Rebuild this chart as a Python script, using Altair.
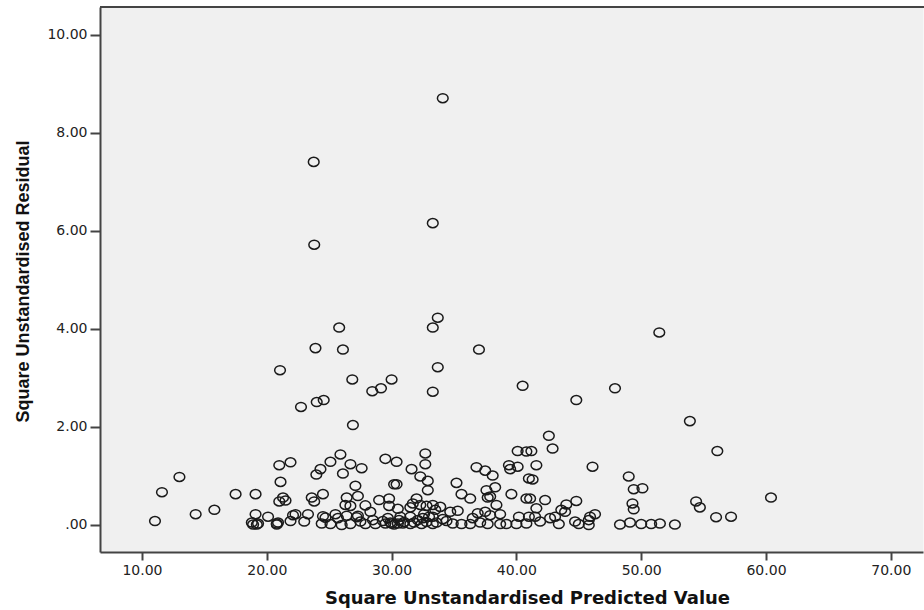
import altair as alt
import pandas as pd

# Squared unstandardised predicted value (x) and squared unstandardised residual (y)
predicted = [
    11.04, 11.6, 13.0, 14.3, 15.8, 17.5, 19.1, 19.1, 20.1, 18.8, 19.3, 20.8, 18.9, 19.2, 20.8,
    21.06, 21.0, 21.9, 21.1, 21.3, 21.0, 21.5, 22.1, 21.9, 22.74, 23.76, 23.8, 23.9, 24.0, 24.56,
    25.8, 26.1, 26.85, 28.45, 29.15, 30.0, 26.9, 25.1, 25.9, 24.3, 23.97, 26.7, 27.6, 26.1, 29.5,
    30.4, 27.1, 30.2, 30.4, 23.6, 23.8, 24.5, 26.4, 27.3, 26.3, 26.7, 27.9, 28.3, 29.0, 29.8,
    29.8, 30.5, 22.3, 23.3, 24.5, 25.5, 26.4, 27.3, 20.9, 23.0, 24.4, 25.1, 26.0, 26.7, 27.5,
    27.9, 28.7, 29.5, 30.0, 30.5, 24.7, 25.7, 27.2, 29.7,
    34.1, 33.3, 33.7, 33.3, 37.0, 33.7, 33.3, 40.5, 44.8, 47.9, 51.45, 53.9, 56.1,
    32.7, 32.7, 31.6, 32.3, 32.9, 32.9, 32.0, 31.7, 31.5, 32.3, 32.8, 33.3, 33.5, 32.6, 31.5,
    30.7, 30.9, 31.5, 32.4, 33.3, 34.1, 34.9, 35.6, 36.3, 37.1, 37.7, 38.7, 39.2, 40.0, 40.8,
    34.7, 35.3, 35.2, 35.6, 36.3, 36.8, 37.5, 38.1, 37.6, 38.3, 37.9, 37.7, 38.4, 38.7, 36.9,
    37.5, 37.9, 36.5, 39.6, 39.4, 40.1, 40.1, 39.5, 40.8, 41.0, 40.8, 40.2, 33.9, 33.3,
    42.6, 42.9, 41.2, 41.6, 41.3, 46.1, 49.0, 49.4, 50.1, 41.1, 42.3, 41.6, 44.0, 44.8, 43.6,
    41.5, 41.9, 42.7, 43.1, 43.4, 43.9, 44.7, 45.0, 45.8, 46.3, 45.9, 49.3, 49.4, 48.3, 49.1,
    50.0, 50.8, 51.5, 52.7, 54.4, 54.7, 56.0, 57.2, 60.4, 41.0, 45.8,
    29.9, 30.2, 31.0, 31.8, 32.1, 32.8, 33.6, 34.4, 30.6, 29.3, 28.5, 32.5, 33.0,
]
residual_sq = [
    0.08, 0.67, 0.98, 0.22, 0.31, 0.63, 0.63, 0.22, 0.17, 0.05, 0.03, 0.03, 0.01, 0.01, 0.01,
    3.16, 1.22, 1.28, 0.88, 0.56, 0.48, 0.50, 0.20, 0.08, 2.41, 7.41, 5.72, 3.61, 2.51, 2.55,
    4.03, 3.58, 2.97, 2.73, 2.79, 2.97, 2.04, 1.29, 1.44, 1.14, 1.03, 1.24, 1.16, 1.05, 1.35,
    1.29, 0.80, 0.83, 0.83, 0.56, 0.48, 0.63, 0.56, 0.59, 0.41, 0.39, 0.40, 0.27, 0.51, 0.54,
    0.39, 0.33, 0.22, 0.22, 0.18, 0.22, 0.19, 0.19, 0.05, 0.07, 0.03, 0.02, 0.00, 0.02, 0.07,
    0.02, 0.02, 0.03, 0.03, 0.03, 0.15, 0.14, 0.16, 0.14,
    8.71, 6.16, 4.23, 4.03, 3.58, 3.22, 2.72, 2.84, 2.55, 2.79, 3.93, 2.12, 1.51,
    1.46, 1.24, 1.14, 0.99, 0.90, 0.71, 0.54, 0.44, 0.36, 0.41, 0.39, 0.41, 0.31, 0.22, 0.17,
    0.17, 0.03, 0.02, 0.02, 0.02, 0.12, 0.03, 0.02, 0.02, 0.05, 0.02, 0.02, 0.02, 0.02, 0.03,
    0.27, 0.29, 0.86, 0.63, 0.54, 1.18, 1.11, 1.01, 0.71, 0.77, 0.58, 0.56, 0.41, 0.22, 0.24,
    0.27, 0.20, 0.14, 0.63, 1.22, 1.51, 1.19, 1.14, 1.50, 0.95, 0.54, 0.17, 0.37, 0.17,
    1.82, 1.56, 1.51, 1.22, 0.93, 1.19, 0.99, 0.73, 0.75, 0.54, 0.51, 0.34, 0.42, 0.49, 0.31,
    0.17, 0.07, 0.14, 0.17, 0.02, 0.27, 0.07, 0.02, 0.10, 0.22, 0.17, 0.44, 0.32, 0.01, 0.05,
    0.02, 0.02, 0.03, 0.01, 0.48, 0.36, 0.16, 0.17, 0.56, 0.17, 0.00,
    0.05, 0.01, 0.06, 0.05, 0.10, 0.06, 0.05, 0.08, 0.10, 0.08, 0.10, 0.14, 0.17,
]

x_ticks = [10, 20, 30, 40, 50, 60, 70]
y_ticks = [0, 2, 4, 6, 8, 10]

x_title = "Square Unstandardised Predicted Value"
y_title = "Square Unstandardised Residual"

W, H = 823, 545
AXIS_COLOR = "#444444"
TEXT_COLOR = "#222222"

df = pd.DataFrame({"pred": predicted, "resid": residual_sq})

# Open, slightly wide ring markers
ring = "M -1.18 0 A 1.18 1 0 1 0 1.18 0 A 1.18 1 0 1 0 -1.18 0 Z"

points = alt.Chart(df).mark_point(
    shape=ring, filled=False, size=82, stroke="#1a1a1a", strokeWidth=1.5, opacity=1
).encode(
    x=alt.X(
        "pred:Q",
        scale=alt.Scale(domain=[6.635, 72.58], nice=False, zero=False),
        axis=alt.Axis(
            values=x_ticks,
            format=".2f",
            title=x_title,
            grid=False,
            tickSize=8,
            tickWidth=2,
            tickColor=AXIS_COLOR,
            domainColor=AXIS_COLOR,
            domainWidth=2,
            labelFont="DejaVu Sans",
            labelFontSize=14,
            labelColor=TEXT_COLOR,
            labelBaseline="alphabetic",
            labelPadding=14,
            labelFlush=False,
            labelOverlap=False,
            titleFont="DejaVu Sans",
            titleFontSize=18,
            titleFontWeight="bold",
            titleColor="#111111",
            titleX=427,
            titleY=51,
            titleAlign="center",
            titleBaseline="alphabetic",
        ),
    ),
    y=alt.Y(
        "resid:Q",
        scale=alt.Scale(domain=[-0.551, 10.571], nice=False, zero=False),
        axis=alt.Axis(
            values=y_ticks,
            labelExpr="datum.value == 0 ? '.00' : format(datum.value, '.2f')",
            title=y_title,
            grid=False,
            tickSize=10,
            tickWidth=2,
            tickColor=AXIS_COLOR,
            domainColor=AXIS_COLOR,
            domainWidth=2,
            labelFont="DejaVu Sans",
            labelFontSize=14,
            labelColor=TEXT_COLOR,
            labelPadding=3,
            labelOverlap=False,
            titleFont="Liberation Sans",
            titleFontSize=18,
            titleFontWeight="bold",
            titleColor="#111111",
            titleX=-72,
            titleY=274,
            titleAngle=270,
            titleAlign="center",
            titleBaseline="alphabetic",
        ),
    ),
)

# Upper frame edge of the plot area
top_edge = alt.Chart(pd.DataFrame({"edge": [0]})).mark_rule(
    color=AXIS_COLOR, strokeWidth=2
).encode(x=alt.value(0), x2=alt.value(W + 10), y=alt.value(0))

chart = (
    alt.layer(points, top_edge)
    .properties(
        width=W,
        height=H,
        autosize=alt.AutoSizeParams(type="none"),
        padding={"left": 100, "top": 7, "right": 1, "bottom": 58},
        background="white",
    )
    .configure_view(fill="#F0F0F0", stroke="transparent")
)

chart.save("out.html", embed_options={"renderer": "svg", "actions": False})
